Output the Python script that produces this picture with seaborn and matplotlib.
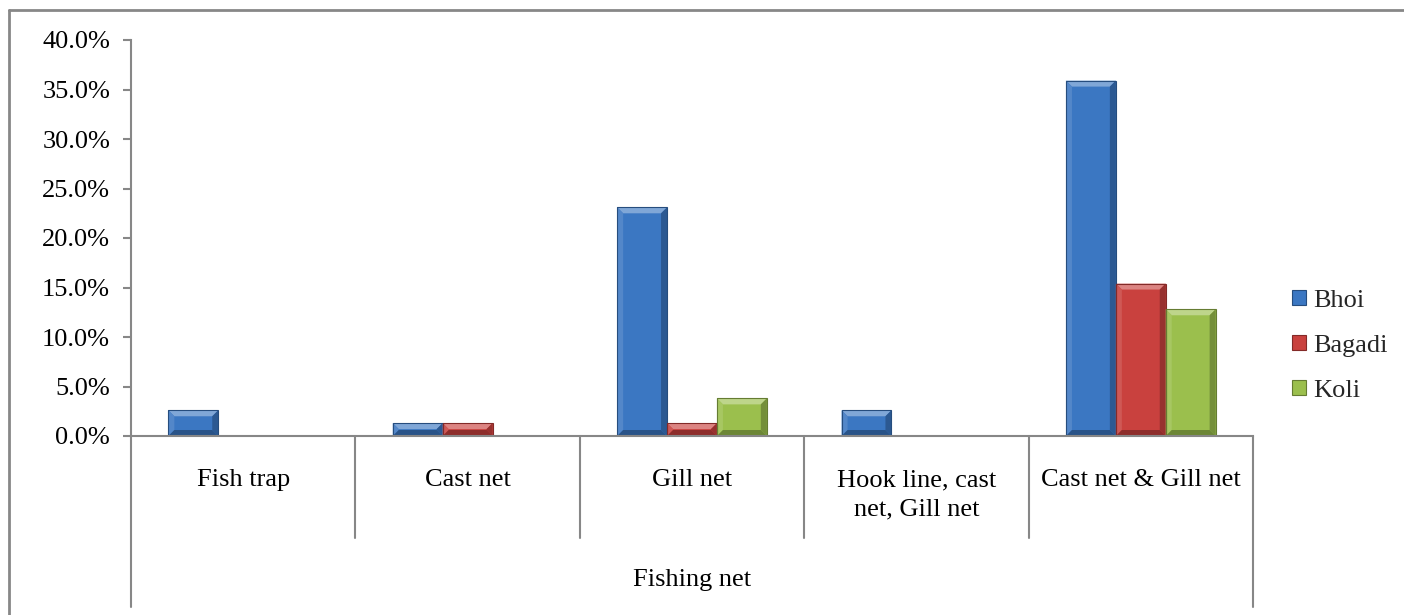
import numpy as np
import pandas as pd
import matplotlib
matplotlib.use("Agg")
import matplotlib.pyplot as plt
from matplotlib.patches import Polygon, Patch
from matplotlib.lines import Line2D
from matplotlib.ticker import FuncFormatter, MultipleLocator
import matplotlib.transforms as mtransforms
import matplotlib.colors as mcolors
import seaborn as sns

# ---- data -------------------------------------------------------------
methods = ["Fish trap", "Cast net", "Gill net",
           "Hook line, cast\nnet, Gill net", "Cast net & Gill net"]
groups = ["Bhoi", "Bagadi", "Koli"]
bhoi = [2.6, 1.3, 23.1, 2.6, 35.9]
bagadi = [0.0, 1.3, 1.3, 0.0, 15.4]
koli = [0.0, 0.0, 3.8, 0.0, 12.8]
outer_label = "Fishing net"

colors = {"Bhoi": "#3B77C2", "Bagadi": "#C9413E", "Koli": "#9BBF4D"}

df = pd.DataFrame({
    "method": methods * 3,
    "group": sum([[g] * len(methods) for g in groups], []),
    "pct": bhoi + bagadi + koli,
})

# ---- style ------------------------------------------------------------
sns.set_theme(style="white")
plt.rcParams["font.family"] = ["Liberation Serif", "DejaVu Serif"]
FS = 19
GREY = "#878787"

W, H = 1404, 615
fig = plt.figure(figsize=(W / 100, H / 100), dpi=100)
ax = fig.add_axes([131 / W, 1 - 436 / H, (1253 - 131) / W, (436 - 40) / H])

sns.barplot(data=df, x="method", y="pct", hue="group", hue_order=groups,
            palette=colors, width=0.667, saturation=1, gap=0,
            edgecolor="none", linewidth=0, legend=False, ax=ax)

ax.set_xlim(-0.5, len(methods) - 0.5)
ax.set_ylim(0, 40)
ax.yaxis.set_major_locator(MultipleLocator(5))
ax.yaxis.set_major_formatter(FuncFormatter(lambda v, p: f"{v:.1f}%"))
ax.set_xticks([])
ax.set_xlabel("")
ax.set_ylabel("")
ax.tick_params(axis="y", which="major", left=True, length=6, width=1.5,
               color=GREY, pad=9, labelsize=FS, labelcolor="black")
for side in ("top", "right"):
    ax.spines[side].set_visible(False)
for side in ("left", "bottom"):
    ax.spines[side].set_color(GREY)
    ax.spines[side].set_linewidth(1.5)


# ---- bevelled bar faces ----------------------------------------------
def shade(c, f):
    r, g, b = mcolors.to_rgb(c)
    if f > 0:
        return (r + (1 - r) * f, g + (1 - g) * f, b + (1 - b) * f)
    return (r * (1 + f), g * (1 + f), b * (1 + f))


fig.canvas.draw()
inv = ax.transData.inverted()
for bar in list(ax.patches):
    h = bar.get_height()
    if not np.isfinite(h) or h <= 0:
        continue
    base = bar.get_facecolor()
    x0, y0 = bar.get_x(), bar.get_y()
    x1, y1 = x0 + bar.get_width(), y0 + h
    (px0, py0), (px1, py1) = ax.transData.transform([(x0, y0), (x1, y1)])
    d = min(6, (px1 - px0) / 2, (py1 - py0) / 2)
    outer = [(px0, py0), (px1, py0), (px1, py1), (px0, py1)]
    inner = [(px0 + d, py0 + d), (px1 - d, py0 + d), (px1 - d, py1 - d), (px0 + d, py1 - d)]
    faces = [
        ([outer[3], outer[2], inner[2], inner[3]], shade(base, 0.35)),   # top
        ([outer[0], outer[3], inner[3], inner[0]], shade(base, 0.12)),   # left
        ([outer[1], outer[2], inner[2], inner[1]], shade(base, -0.25)),  # right
        ([outer[0], outer[1], inner[1], inner[0]], shade(base, -0.30)),  # bottom
    ]
    for pts, col in faces:
        ax.add_patch(Polygon(inv.transform(pts), closed=True, facecolor=col,
                             edgecolor="none", zorder=bar.get_zorder() + 0.1))
    ax.add_patch(Polygon(inv.transform(outer), closed=True, facecolor="none",
                         edgecolor=shade(base, -0.35), linewidth=0.8,
                         zorder=bar.get_zorder() + 0.2))

# ---- two-level category axis -----------------------------------------
blend = mtransforms.blended_transform_factory(ax.transData, ax.transAxes)
inner_bottom = (436 - 538) / 396
outer_bottom = (436 - 607) / 396
for b in np.arange(0.5, len(methods) - 0.5, 1.0):
    ax.add_line(Line2D([b, b], [0, inner_bottom], transform=blend,
                       color=GREY, lw=1.5, clip_on=False))
for b in (-0.5, len(methods) - 0.5):
    ax.add_line(Line2D([b, b], [0, outer_bottom], transform=blend,
                       color=GREY, lw=1.5, clip_on=False))

for i, m in enumerate(methods):
    ax.text(i, (436 - 469) / 396, m, transform=blend, ha="center", va="top",
            fontsize=FS, color="black", linespacing=1.45, multialignment="center")
ax.text((len(methods) - 1) / 2, (436 - 580) / 396, outer_label, transform=blend,
        ha="center", va="center", fontsize=FS, color="black")

# ---- legend ----------------------------------------------------------
handles = [Patch(facecolor=colors[g], edgecolor=shade(colors[g], -0.35), linewidth=0.8)
           for g in groups]
fig.legend(handles, groups, loc="center left",
           bbox_to_anchor=(1274 / W, 1 - 346 / H), frameon=False,
           fontsize=FS, handlelength=0.5, handleheight=0.5,
           handletextpad=0.3, labelspacing=0.86, borderpad=0.2)

# ---- chart frame -----------------------------------------------------
fig.add_artist(Line2D([9 / W, 1.0], [1 - 10 / H, 1 - 10 / H], transform=fig.transFigure,
                      color=GREY, lw=2))
fig.add_artist(Line2D([9 / W, 9 / W], [0.0, 1 - 10 / H], transform=fig.transFigure,
                      color=GREY, lw=2))

fig.savefig("out.png", dpi=100, facecolor="white")
